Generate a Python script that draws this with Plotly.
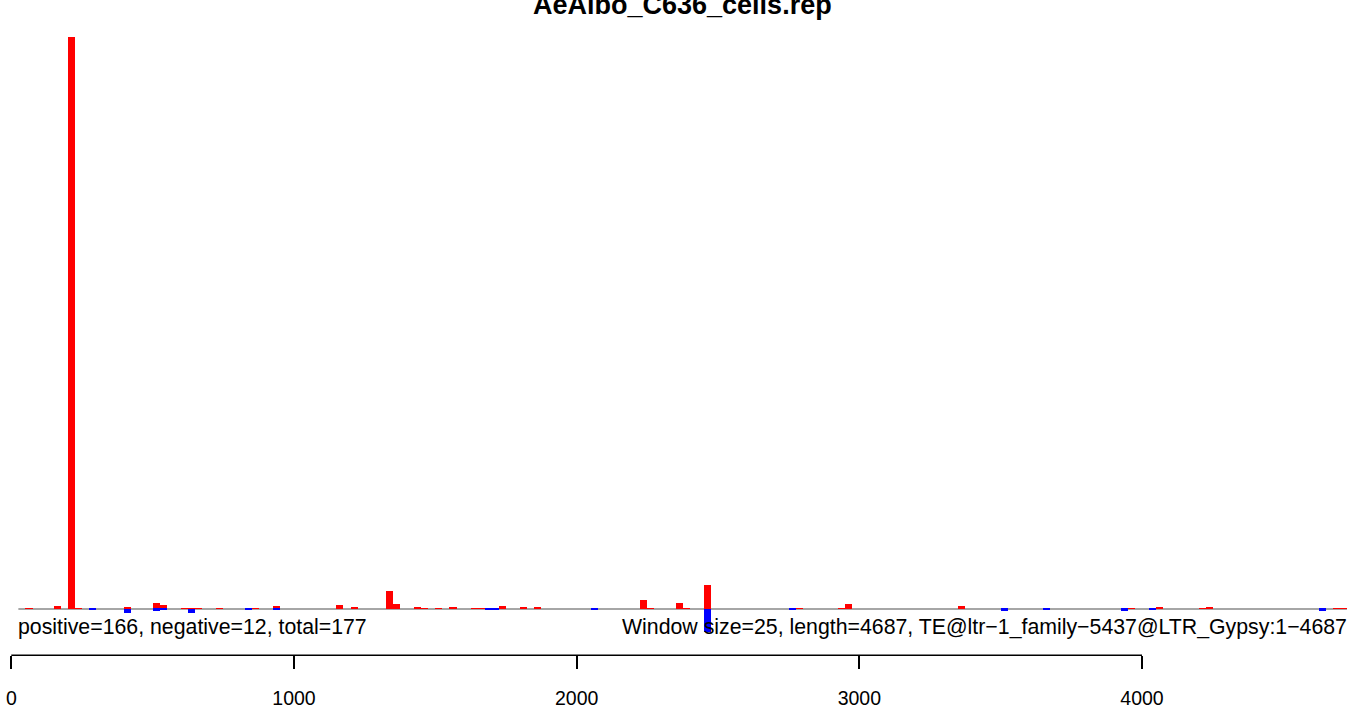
import plotly.graph_objects as go

# ---------------- data ----------------
title = "AeAlbo_C636_cells.rep"
window_size = 25
seq_length = 4687
left_label = "positive=166, negative=12, total=177"
right_label = "Window size=25, length=4687, TE@ltr\u22121_family\u22125437@LTR_Gypsy:1\u22124687"

# window start positions and signal on the + strand (red, drawn upward)
pos_starts = [50, 150, 200, 225, 400, 500, 525, 600, 625, 650, 725, 850, 925,
              1150, 1200, 1325, 1350, 1425, 1450, 1500, 1550, 1625, 1650, 1725,
              1800, 1850, 2225, 2250, 2350, 2375, 2450, 2775, 2925, 2950, 3350,
              3950, 4050, 4200, 4225, 4675, 4700]
pos_values = [0.8, 3, 574, 0.8, 2, 6, 4, 0.8, 0.8, 0.8, 0.8, 0.8, 3,
              4, 2, 18, 4.5, 2, 0.8, 0.8, 2, 0.8, 0.8, 3,
              2, 2, 9, 0.8, 6, 0.8, 24, 0.8, 0.8, 5, 3,
              0.8, 2, 0.8, 2, 0.8, 0.8]

# window start positions and signal on the - strand (blue, drawn downward)
neg_starts = [275, 400, 500, 525, 625, 825, 925, 1675, 1700, 2050, 2450, 2750,
              3500, 3650, 3925, 4025, 4625]
neg_values = [1, 4, 2, 1, 4, 1, 1, 1, 1, 1, 23.5, 1,
              2, 1, 2, 1, 2]

tick_vals = [0, 1000, 2000, 3000, 4000]
tick_text = ["0", "1000", "2000", "3000", "4000"]

baseline_start = 25
baseline_end = 4725

# ---------------- figure ----------------
W, H = 1365, 709
FONT = "Liberation Sans, Arial, Helvetica, sans-serif"

pos_x = [s + window_size / 2 for s in pos_starts]
neg_x = [s + window_size / 2 for s in neg_starts]
neg_y = [-v for v in neg_values]

fig = go.Figure()
fig.add_trace(go.Bar(x=pos_x, y=pos_values, width=window_size,
                     marker=dict(color="#FF0000", line=dict(width=0)),
                     showlegend=False, hoverinfo="x+y"))
fig.add_trace(go.Bar(x=neg_x, y=neg_y, width=window_size,
                     marker=dict(color="#0000FF", line=dict(width=0)),
                     showlegend=False, hoverinfo="x+y"))

# baseline
fig.add_shape(type="line", xref="x", yref="y",
              x0=baseline_start, x1=baseline_end, y0=0, y1=0,
              line=dict(color="#888888", width=1.5), layer="below")

axis_pos = (H - 658) / H
# axis line spanning first to last tick
fig.add_shape(type="line", xref="x", yref="paper",
              x0=tick_vals[0], x1=tick_vals[-1], y0=axis_pos, y1=axis_pos,
              line=dict(color="black", width=1.5))

fig.add_annotation(text=left_label, xref="x", yref="y",
                   x=baseline_start, y=-18.5, xanchor="left", yanchor="middle",
                   xshift=-2, showarrow=False,
                   font=dict(family=FONT, size=21.3, color="black"))
fig.add_annotation(text=right_label, xref="x", yref="y",
                   x=baseline_end, y=-18.5, xanchor="right", yanchor="middle",
                   xshift=2, showarrow=False,
                   font=dict(family=FONT, size=21.3, color="black"))
fig.add_annotation(text="<b>" + title + "</b>", xref="paper", yref="paper",
                   x=0.5, y=1 - 5 / H, xanchor="center", yanchor="middle",
                   showarrow=False, font=dict(family=FONT, size=27, color="black"))

x_scale = (1142 - 11.3) / 4000.0
x_lo = -11.3 / x_scale
x_hi = (W - 11.3) / x_scale

fig.update_layout(
    width=W, height=H,
    margin=dict(l=0, r=0, t=0, b=0),
    paper_bgcolor="white", plot_bgcolor="white",
    barmode="overlay", bargap=0,
    xaxis=dict(range=[x_lo, x_hi], showgrid=False, zeroline=False,
               showline=False, tickmode="array", tickvals=tick_vals,
               ticktext=tick_text, ticks="outside", ticklen=13,
               tickwidth=1.5, tickcolor="black",
               anchor="free", position=axis_pos,
               tickfont=dict(family=FONT, size=19.5, color="black"),
               ticklabelstandoff=12),
    yaxis=dict(range=[-97.5, 611.5], visible=False, fixedrange=True),
    font=dict(family=FONT),
)

fig.write_html("out.html",
               config={"displayModeBar": False},
               post_script="document.body.style.margin='0';"
                           "document.body.style.overflow='hidden';")
